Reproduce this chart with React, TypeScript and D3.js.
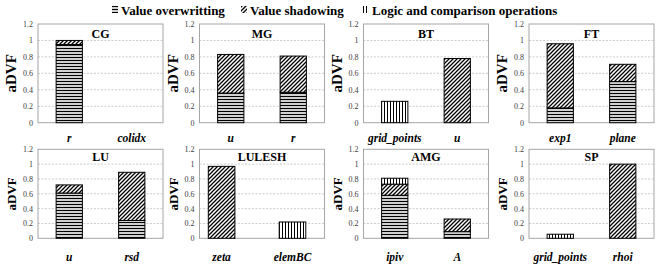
import React from "react";
import * as d3 from "d3";

// ---- data ----
const seriesNames = ["Value overwritting", "Value shadowing", "Logic and comparison operations"];
const benchmarks = ["CG", "MG", "BT", "FT", "LU", "LULESH", "AMG", "SP"];
const categories = [
  ["r", "colidx"],
  ["u", "r"],
  ["grid_points", "u"],
  ["exp1", "plane"],
  ["u", "rsd"],
  ["zeta", "elemBC"],
  ["ipiv", "A"],
  ["grid_points", "rhoi"],
];
const overwriting = [
  [0.95, 0],
  [0.36, 0.37],
  [0, 0],
  [0.18, 0.5],
  [0.61, 0.24],
  [0, 0],
  [0.58, 0.09],
  [0, 0],
];
const shadowing = [
  [0.05, 0],
  [0.47, 0.44],
  [0, 0.78],
  [0.78, 0.21],
  [0.11, 0.65],
  [0.97, 0],
  [0.15, 0.17],
  [0, 1.0],
];
const logic = [
  [0, 0],
  [0, 0],
  [0.26, 0],
  [0, 0],
  [0, 0],
  [0, 0.22],
  [0.08, 0],
  [0.055, 0],
];
const yTicks = [0, 0.2, 0.4, 0.6, 0.8, 1, 1.2];
const yTickLabels = ["0", "0.2", "0.4", "0.6", "0.8", "1", "1.2"];

const patterns = ["pHoriz", "pDiag", "pVert"];
const FONT = "Liberation Serif, DejaVu Serif, serif";
const plotLefts = [38, 199.5, 363.5, 529];

function Panel({ idx }: { idx: number }) {
  const col = idx % 4;
  const row = Math.floor(idx / 4);
  const left = plotLefts[col];
  const width = 125;
  const top = row === 0 ? 24 : 149.3;
  const bottom = row === 0 ? 122.7 : 238.3;
  const cats = categories[idx];
  const isLulesh = benchmarks[idx] === "LULESH";
  const x = d3
    .scaleBand<string>()
    .domain(cats.map((c, i) => i + ""))
    .range([left, left + width])
    .paddingInner(isLulesh ? 0.625 : 0.58)
    .paddingOuter(isLulesh ? 0.194 : 0.29)
    .align(isLulesh ? 0.32 : 0.5);
  const y = d3.scaleLinear().domain([0, 1.2]).range([bottom, top]);
  const series = [overwriting[idx], shadowing[idx], logic[idx]];
  const rows = cats.map((c, i) => ({ key: i + "", ow: series[0][i], sh: series[1][i], lo: series[2][i] }));
  const stack = d3.stack<any>().keys(["ow", "sh", "lo"])(rows);
  const labelY = row === 0 ? 142 : 261;
  const titleY = row === 0 ? 37.5 : 161;
  const yLabelSize = row === 0 ? 15 : 13;
  return (
    <g>
      {yTicks.slice(1, -1).map((t) => (
        <line key={t} x1={left} x2={left + width} y1={y(t)} y2={y(t)} stroke="#bfbfbf" strokeWidth={0.8} strokeDasharray="2,1.5" />
      ))}
      <rect x={left} y={top} width={width} height={bottom - top} fill="none" stroke="#a6a6a6" strokeWidth={1} />
      {stack.map((s, si) =>
        s.map((d, di) => {
          const h = y(d[0]) - y(d[1]);
          if (h <= 0.01) return null;
          return (
            <rect
              key={si + "-" + di}
              x={x(di + "")}
              y={y(d[1])}
              width={x.bandwidth()}
              height={h}
              fill={`url(#${patterns[si]})`}
              stroke="#000"
              strokeWidth={1}
            />
          );
        })
      )}
      {yTicks.map((t, i) => (
        <text key={t} x={left - 5} y={y(t) + 3} textAnchor="end" fontSize={8} fill="#404040" style={{ fontFamily: FONT }}>
          {yTickLabels[i]}
        </text>
      ))}
      <text
        transform={`translate(${left - 22},${(top + bottom) / 2}) rotate(-90)`}
        textAnchor="middle"
        fontSize={yLabelSize}
        fontWeight="bold"
        style={{ fontFamily: FONT }}
        fill="#000"
      >
        aDVF
      </text>
      <text x={left + width / 2} y={titleY} textAnchor="middle" fontSize={12} fontWeight="bold" style={{ fontFamily: FONT }}>
        {benchmarks[idx]}
      </text>
      {cats.map((c, i) => (
        <text
          key={i}
          x={(x(i + "") as number) + x.bandwidth() / 2}
          y={labelY}
          textAnchor="middle"
          fontSize={11.5}
          fontWeight="bold"
          fontStyle="italic"
          style={{ fontFamily: FONT }}
        >
          {c}
        </text>
      ))}
    </g>
  );
}

export default function App() {
  const legendIconX = [112, 241, 363];
  return (
    <svg width={664} height={264} style={{ position: "absolute", left: 0, top: 0, background: "#fff" }}>
      <defs>
        <pattern id="pHoriz" patternUnits="userSpaceOnUse" width={4} height={3}>
          <rect width={4} height={3} fill="#d0d0d0" />
          <rect y={0} width={4} height={1} fill="#000" />
        </pattern>
        <pattern id="pDiag" patternUnits="userSpaceOnUse" width={4} height={4}>
          <rect width={4} height={4} fill="#fff" />
          <path d="M-1,1 l2,-2 M0,4 l4,-4 M3,5 l2,-2" stroke="#000" strokeWidth={1.3} />
        </pattern>
        <pattern id="pVert" patternUnits="userSpaceOnUse" width={3} height={4}>
          <rect width={3} height={4} fill="#fff" />
          <rect x={0} width={1} height={4} fill="#000" />
        </pattern>
      </defs>
      {seriesNames.map((n, i) => (
        <g key={n}>
          <rect x={legendIconX[i]} y={6} width={6} height={7} fill={`url(#${patterns[i]})`} />
          <text x={legendIconX[i] + 9} y={15} fontSize={13} fontWeight="bold" style={{ fontFamily: FONT }}>
            {n}
          </text>
        </g>
      ))}
      {benchmarks.map((b, i) => (
        <Panel key={b} idx={i} />
      ))}
    </svg>
  );
}
